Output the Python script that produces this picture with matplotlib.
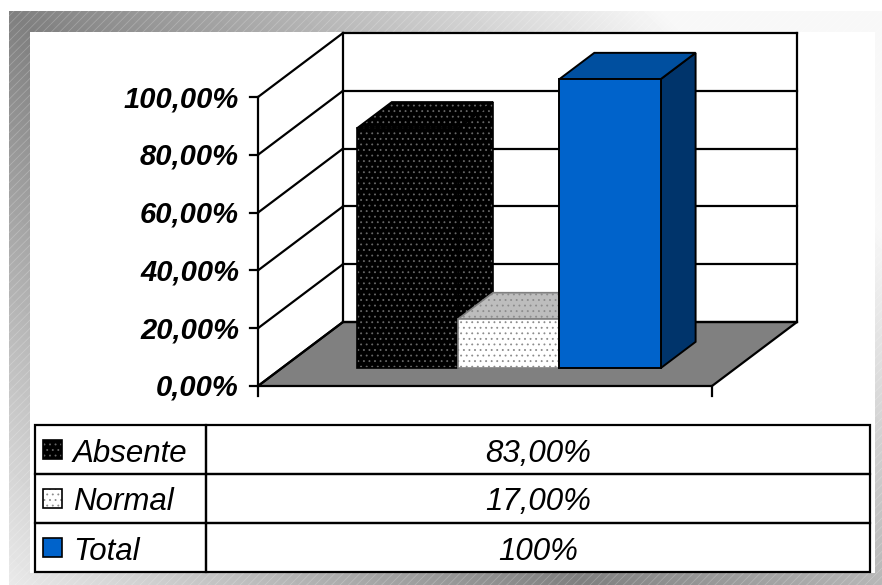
import numpy as np
import matplotlib.pyplot as plt
from matplotlib.patches import Polygon, Rectangle

plt.rcParams['font.family'] = ['Liberation Sans', 'DejaVu Sans']
plt.rcParams['hatch.linewidth'] = 0.6

series = ['Absente', 'Normal', 'Total']
values = [83.0, 17.0, 100.0]
value_labels = ['83,00%', '17,00%', '100%']
y_ticks = [0, 20, 40, 60, 80, 100]
tick_labels = ['0,00%', '20,00%', '40,00%', '60,00%', '80,00%', '100,00%']

# face styles: front, top, side, hatch colour, edge colour
styles = {
    'Absente': dict(front='#000000', top='#000000', side='#000000',
                    hatch='...', hcolor='#666666', edge='#000000'),
    'Normal': dict(front='#ffffff', top='#bdbdbd', side='#e6e6e6',
                   hatch='...', hcolor='#8c8c8c', edge='#808080'),
    'Total': dict(front='#0063cb', top='#004f9f', side='#00346b',
                  hatch=None, hcolor=None, edge='#000000'),
}

W, H = 882, 585
fig = plt.figure(figsize=(W / 100, H / 100), dpi=100)
ax = fig.add_axes([0, 0, 1, 1])

# shaded frame around the chart area
fx0, fy0 = 9, 11
xx, yy = np.meshgrid(np.arange(fx0, W), np.arange(fy0, H))
shade = 0.5 + 0.47 * np.clip(np.abs(xx - yy) / 650.0, 0, 1)
ax.imshow(shade, cmap='gray', vmin=0, vmax=1, extent=(fx0, W, H, fy0),
          interpolation='bilinear', zorder=0)
ax.add_patch(Rectangle((fx0, fy0), W - fx0, H - fy0, fill=False, lw=0,
                       hatch='////', edgecolor=(1, 1, 1, 0.22), zorder=1))
ax.add_patch(Rectangle((30, 32), 845, 541, fc='white', ec='none', zorder=2))

# oblique 3D projection: x along floor, v in percent, d depth 0..1
ORIGIN = (258, 386)
FLOOR_W = 454
DEPTH = (85, -64)
PX_PER_PCT = 2.89


def proj(x, v, d):
    return (ORIGIN[0] + x + d * DEPTH[0],
            ORIGIN[1] - v * PX_PER_PCT + d * DEPTH[1])


LW = 1.6
vmax = y_ticks[-1]

# floor
ax.add_patch(Polygon([proj(0, 0, 0), proj(FLOOR_W, 0, 0), proj(FLOOR_W, 0, 1),
                      proj(0, 0, 1)], fc='#808080', ec='black', lw=LW, zorder=3))

# back wall, side wall gridlines and value axis
for t in y_ticks:
    ax.plot(*zip(proj(0, t, 1), proj(FLOOR_W, t, 1)), color='black', lw=LW, zorder=3)
    ax.plot(*zip(proj(0, t, 0), proj(0, t, 1)), color='black', lw=LW, zorder=3)
    px, py = proj(0, t, 0)
    ax.plot([px - 8, px], [py, py], color='black', lw=LW, zorder=3)
for xe in (0, FLOOR_W):
    ax.plot(*zip(proj(xe, 0, 1), proj(xe, vmax, 1)), color='black', lw=LW, zorder=3)
    px, py = proj(xe, 0, 0)
    ax.plot([px, px], [py, py + 10], color='black', lw=LW, zorder=3)
ax.plot(*zip(proj(0, 0, 0), proj(0, vmax, 0)), color='black', lw=LW, zorder=3)

for t, lab in zip(y_ticks, tick_labels):
    px, py = proj(0, t, 0)
    ax.text(px - 19, py + 10, lab, ha='right', va='baseline', fontsize=21,
            fontweight='bold', fontstyle='italic', zorder=4)

# columns
bar_w = 101.3
d0, d1 = 0.28, 0.69
center = FLOOR_W / 2


def face(pts, fc, st, z):
    if st['hatch']:
        ax.add_patch(Polygon(pts, fc=fc, ec=st['hcolor'], hatch=st['hatch'],
                             lw=0, zorder=z))
        ax.add_patch(Polygon(pts, fill=False, ec=st['edge'], lw=1.2, zorder=z))
    else:
        ax.add_patch(Polygon(pts, fc=fc, ec=st['edge'], lw=1.4, zorder=z))


for i, (name, v) in enumerate(zip(series, values)):
    st = styles[name]
    xl = center + (i - len(series) / 2) * bar_w
    xr = xl + bar_w
    z = 5 + i
    side = [proj(xr, 0, d0), proj(xr, 0, d1), proj(xr, v, d1), proj(xr, v, d0)]
    top = [proj(xl, v, d0), proj(xr, v, d0), proj(xr, v, d1), proj(xl, v, d1)]
    front = [proj(xl, 0, d0), proj(xr, 0, d0), proj(xr, v, d0), proj(xl, v, d0)]
    face(side, st['side'], st, z)
    face(top, st['top'], st, z)
    face(front, st['front'], st, z)

# data table with legend keys
tx0, tx1, tx2 = 35, 206, 870
ty0, row_h = 425, 49
for k, (name, lab) in enumerate(zip(series, value_labels)):
    y = ty0 + k * row_h
    ax.add_patch(Rectangle((tx0, y), tx1 - tx0, row_h, fill=False, ec='black',
                           lw=LW, zorder=3))
    ax.add_patch(Rectangle((tx1, y), tx2 - tx1, row_h, fill=False, ec='black',
                           lw=LW, zorder=3))
    yc = y + row_h / 2
    st = styles[name]
    key = Rectangle((43, yc - 10), 19, 19, fc=st['front'],
                    ec=st['hcolor'] if st['hatch'] else 'black',
                    hatch=st['hatch'], lw=0, zorder=4)
    ax.add_patch(key)
    ax.add_patch(Rectangle((43, yc - 10), 19, 19, fill=False, ec='black',
                           lw=1.2, zorder=4))
    ax.text(73, yc + 12, name, fontsize=22.5, fontstyle='italic', va='baseline', zorder=4)
    ax.text((tx1 + tx2) / 2, yc + 12, lab, fontsize=22.5, fontstyle='italic',
            ha='center', va='baseline', zorder=4)

ax.set_xlim(0, W)
ax.set_ylim(H, 0)
ax.set_aspect('auto')
ax.axis('off')
fig.savefig('out.png', dpi=100, facecolor='white')
